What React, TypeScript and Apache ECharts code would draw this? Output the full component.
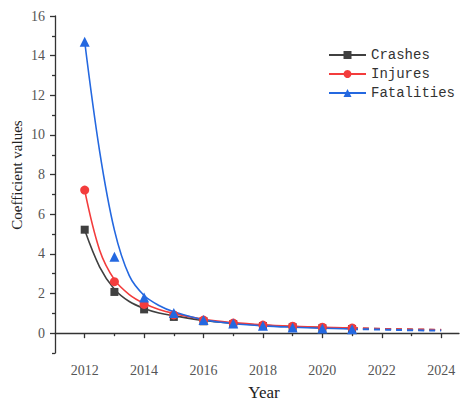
import React, { useEffect, useRef } from "react";
import * as echarts from "echarts";

const years = [2012, 2013, 2014, 2015, 2016, 2017, 2018, 2019, 2020, 2021];
const crashes = [5.22, 2.08, 1.2, 0.82, 0.6, 0.46, 0.36, 0.3, 0.25, 0.21];
const injures = [7.22, 2.6, 1.45, 0.92, 0.66, 0.51, 0.41, 0.35, 0.3, 0.26];
const fatalities = [14.7, 3.85, 1.8, 1.02, 0.66, 0.49, 0.37, 0.29, 0.24, 0.2];

const fitYears = [2012, 2012.5, 2013, 2013.5, 2014, 2014.5, 2015, 2016, 2017, 2018, 2019, 2020, 2021];
const crashesFit = [5.2, 3.35, 2.22, 1.6, 1.25, 1.02, 0.88, 0.64, 0.5, 0.4, 0.33, 0.28, 0.24];
const injuresFit = [7.2, 4.2, 2.7, 1.95, 1.5, 1.2, 1.0, 0.7, 0.53, 0.42, 0.35, 0.3, 0.26];
const fatalitiesFit = [14.7, 9.2, 5.2, 2.9, 1.9, 1.4, 1.08, 0.68, 0.49, 0.37, 0.3, 0.25, 0.21];

const extYears = [2021, 2022, 2023, 2024];
const crashesExt = [0.24, 0.21, 0.18, 0.16];
const injuresExt = [0.26, 0.22, 0.19, 0.17];
const fatalitiesExt = [0.21, 0.18, 0.15, 0.13];

const xMajor = [2012, 2014, 2016, 2018, 2020, 2022, 2024];
const xMinor = [2013, 2015, 2017, 2019, 2021, 2023];
const yMajor = [0, 2, 4, 6, 8, 10, 12, 14, 16];
const yMinor = [-1, 1, 3, 5, 7, 9, 11, 13, 15];

const names = ["Crashes", "Injures", "Fatalities"];
const colors = ["#404040", "#f33c3c", "#2468e0"];
const symbols = ["rect", "circle", "triangle"];
const symbolSizes = [8, 9, 10];

const zip = (xs: number[], ys: number[]) => xs.map((x, i) => [x, ys[i]]);

export default function App() {
  const ref = useRef<HTMLDivElement>(null);
  useEffect(() => {
    if (!ref.current) return;
    const chart = echarts.init(ref.current, null, { renderer: "svg" });
    const fits = [crashesFit, injuresFit, fatalitiesFit];
    const exts = [crashesExt, injuresExt, fatalitiesExt];
    const pts = [crashes, injures, fatalities];
    const serif = "'Liberation Serif', 'Times New Roman', serif";
    const series: any[] = [];
    names.forEach((n, i) => {
      series.push({
        name: n,
        type: "line",
        smooth: 0.35,
        data: zip(fitYears, fits[i]),
        symbol: symbols[i],
        showSymbol: false,
        lineStyle: { color: colors[i], width: 1.6 },
        itemStyle: { color: colors[i] },
        z: 2,
      });
    });
    names.forEach((n, i) => {
      series.push({
        name: n + " forecast",
        type: "line",
        smooth: true,
        data: zip(extYears, exts[i]),
        symbol: "none",
        lineStyle: { color: colors[i], width: 2, type: [6, 5] },
        z: 2,
      });
    });
    names.forEach((n, i) => {
      series.push({
        name: n + " data",
        type: "scatter",
        data: zip(years, pts[i]),
        symbol: symbols[i],
        symbolSize: symbolSizes[i],
        itemStyle: { color: colors[i], opacity: 1 },
        z: 3,
      });
    });
    const fmt = (v: number) => String(v);
    chart.setOption({
      animation: false,
      backgroundColor: "#ffffff",
      grid: { left: 55, right: 11, top: 16, bottom: 48, containLabel: false },
      legend: {
        data: names,
        orient: "vertical",
        left: 323,
        top: 43,
        itemWidth: 37,
        itemHeight: 10,
        itemGap: 5,
        textStyle: { fontFamily: "'Liberation Mono', monospace", fontSize: 14, color: "#333" },
      },
      xAxis: [
        {
          type: "value",
          min: 2011,
          max: 2024.6,
          axisLine: { show: true, lineStyle: { color: "#333", width: 1.3 } },
          axisTick: { show: true, customValues: xMajor, length: 5, lineStyle: { color: "#333", width: 1.3 } },
          axisLabel: { customValues: xMajor, formatter: fmt, margin: 10, fontFamily: serif, fontSize: 14, color: "#555" },
          splitLine: { show: false },
        },
        {
          type: "value",
          min: 2011,
          max: 2024.6,
          position: "bottom",
          axisLine: { show: false },
          axisTick: { show: true, customValues: xMinor, length: 3, lineStyle: { color: "#333", width: 1.3 } },
          axisLabel: { show: false },
          splitLine: { show: false },
        },
      ],
      yAxis: [
        {
          type: "value",
          min: -1,
          max: 16,
          axisLine: { show: true, lineStyle: { color: "#333", width: 1.3 } },
          axisTick: { show: true, customValues: yMajor, length: 5, lineStyle: { color: "#333", width: 1.3 } },
          axisLabel: { customValues: yMajor, formatter: fmt, margin: 10, fontFamily: serif, fontSize: 14, color: "#555" },
          splitLine: { show: false },
        },
        {
          type: "value",
          min: -1,
          max: 16,
          position: "left",
          axisLine: { show: false },
          axisTick: { show: true, customValues: yMinor, length: 3, lineStyle: { color: "#333", width: 1.3 } },
          axisLabel: { show: false },
          splitLine: { show: false },
        },
      ],
      graphic: [
        {
          type: "text",
          x: 264,
          y: 392,
          style: {
            text: "Year",
            fontFamily: serif,
            fontSize: 17,
            fill: "#222",
            align: "center",
            verticalAlign: "middle",
          },
        },
        {
          type: "text",
          x: 17,
          y: 175,
          rotation: Math.PI / 2,
          style: {
            text: "Coefficient values",
            fontFamily: serif,
            fontSize: 15,
            fill: "#222",
            align: "center",
            verticalAlign: "middle",
          },
        },
      ],
      series,
    });
    return () => chart.dispose();
  }, []);
  return (
    <div
      ref={ref}
      style={{ position: "fixed", left: 0, top: 0, width: 470, height: 401, background: "#fff" }}
    />
  );
}
